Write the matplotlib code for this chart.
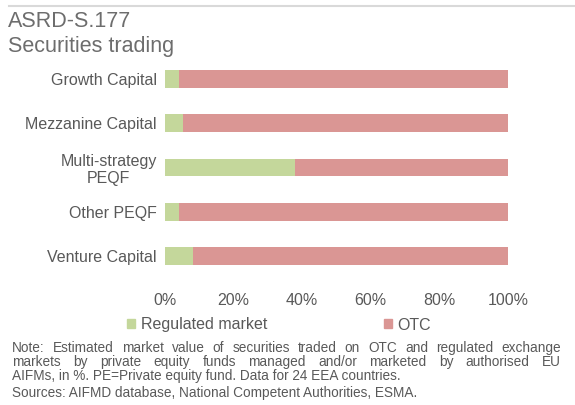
import matplotlib
matplotlib.use("Agg")
import matplotlib.pyplot as plt
from matplotlib.patches import Patch
from matplotlib.lines import Line2D

plt.rcParams['font.family'] = ['Liberation Sans', 'DejaVu Sans']

categories = ["Growth Capital", "Mezzanine Capital", "Multi-strategy\nPEQF",
              "Other PEQF", "Venture Capital"]
regulated = [4.2, 5.2, 37.9, 4.2, 8.3]
otc = [100 - v for v in regulated]
xticks = [0, 20, 40, 60, 80, 100]

GREEN = "#C4D79B"
RED = "#DA9694"
TXT = "#595959"

W, H = 575, 405
fig = plt.figure(figsize=(W / 100, H / 100), dpi=100)

# axes placed in pixel terms
left, right, top, bottom = 165, 508, 57, 278
ax = fig.add_axes([left / W, 1 - bottom / H, (right - left) / W, (bottom - top) / H])

ypos = list(range(len(categories)))
ax.barh(ypos, regulated, height=0.4, color=GREEN, label="Regulated market")
ax.barh(ypos, otc, left=regulated, height=0.4, color=RED, label="OTC")
ax.set_xlim(0, 100)
ax.set_ylim(len(categories) - 0.5, -0.5)
ax.set_yticks(ypos)
ax.set_yticklabels(categories, fontsize=11.5, color=TXT)
for lab in ax.get_yticklabels():
    lab.set_multialignment("center")
    lab.set_linespacing(1.15)
ax.set_xticks(xticks)
ax.set_xticklabels([f"{t}%" for t in xticks], fontsize=11.5, color=TXT)
ax.tick_params(axis="both", length=0)
ax.tick_params(axis="y", pad=6)
ax.tick_params(axis="x", pad=11)
for s in ax.spines.values():
    s.set_visible(False)

# top rule
fig.add_artist(Line2D([9 / W, 1], [1 - 6 / H, 1 - 6 / H], color="#d9d9d9", lw=1.5))

# title
fig.text(8 / W, 1 - 27 / H, "ASRD-S.177", fontsize=15.5, color="#6d6d6d", va="baseline")
fig.text(8 / W, 1 - 52 / H, "Securities trading", fontsize=15.5, color="#6d6d6d", va="baseline")

# legend
handles = [Patch(color=GREEN), Patch(color=RED)]
fig.legend(handles, ["Regulated market", "OTC"], loc="center left",
           bbox_to_anchor=(127 / W, 1 - 325 / H), ncol=2, frameon=False,
           fontsize=11.5, labelcolor=TXT, handlelength=0.5, handleheight=0.5,
           handletextpad=0.35, columnspacing=7.3, borderpad=0, borderaxespad=0)

# notes, justified lines
FS = 9.8
note_lines = [
    ("Note: Estimated market value of securities traded on OTC and regulated exchange", True),
    ("markets by private equity funds managed and/or marketed by authorised EU", True),
    ("AIFMs, in %. PE=Private equity fund. Data for 24 EEA countries.", False),
]
baselines = [352, 366, 380]
x0, x1 = 12, 561
fig.canvas.draw()
renderer = fig.canvas.get_renderer()
for (line, justify), yb in zip(note_lines, baselines):
    y = 1 - yb / H
    if not justify:
        fig.text(x0 / W, y, line, fontsize=FS, color=TXT, va="baseline")
        continue
    words = line.split(" ")
    widths = []
    for w in words:
        t = fig.text(0, 0, w, fontsize=FS)
        widths.append(t.get_window_extent(renderer).width)
        t.remove()
    gap = (x1 - x0 - sum(widths)) / (len(words) - 1)
    x = x0
    for w, wd in zip(words, widths):
        fig.text(x / W, y, w, fontsize=FS, color=TXT, va="baseline")
        x += wd + gap

fig.text(x0 / W, 1 - 397 / H, "Sources: AIFMD database, National Competent Authorities, ESMA.",
         fontsize=FS, color=TXT, va="baseline")

fig.savefig("out.png", dpi=100)
